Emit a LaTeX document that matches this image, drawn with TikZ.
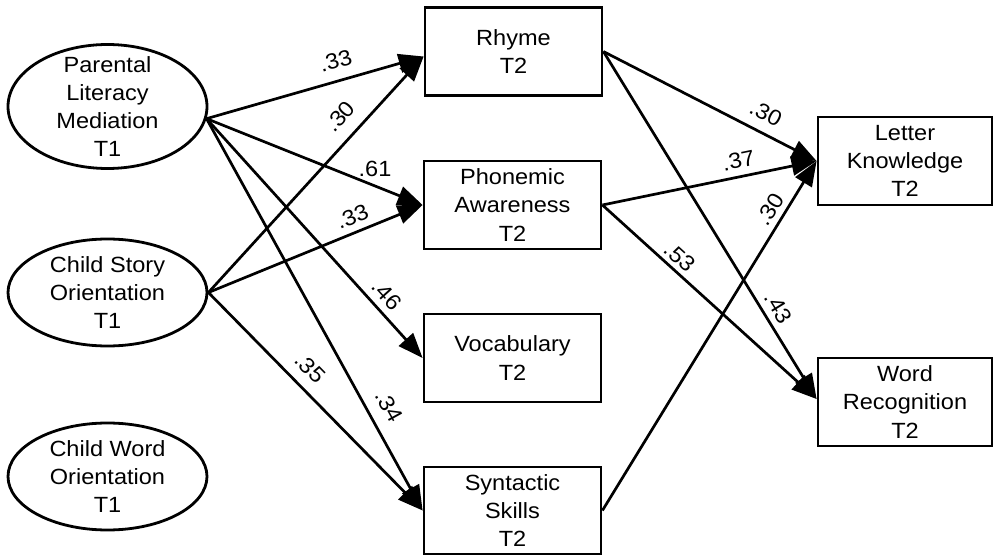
\documentclass[tikz,border=0pt]{standalone}
\usepackage{fontspec}
\setmainfont{Liberation Sans}[FakeStretch=1.07]
\usetikzlibrary{arrows.meta,shapes.geometric}

\begin{document}
\begin{tikzpicture}[x=1pt,y=-1pt,
  txt/.style={font=\fontsize{22}{28.3}\selectfont, align=center},
  latent/.style={ellipse, draw, line width=2.8pt, minimum width=199pt,
    minimum height=107pt, inner sep=0pt},
  measure/.style={rectangle, draw, line width=2.8pt, minimum width=177pt,
    minimum height=88pt, inner sep=0pt, txt},
  effect/.style={line width=2.7pt, -{Triangle[length=25pt,width=19pt]}},
  coef/.style={font=\fontsize{22}{26}\selectfont, inner sep=1pt},
  scoef/.style={coef, sloped}
]
\useasboundingbox (0,0) rectangle (994,556);

% latent predictors (T1)
\node[latent, minimum height=124pt,
  label={[txt]center:{Parental\\Literacy\\Mediation\\T1}}] (plm) at (107.5,106.5) {};
\node[latent, label={[txt]center:{Child Story\\Orientation\\T1}}] (cso) at (107.5,292.5) {};
\node[latent, label={[txt]center:{Child Word\\Orientation\\T1}}] (cwo) at (107.5,476.5) {};

% mediating skills (T2)
\node[measure] (rhy) at (513.5,51.5) {Rhyme\\T2};
\node[measure] (pho) at (512.5,205) {Phonemic\\Awareness\\T2};
\node[measure] (voc) at (512.5,358) {Vocabulary\\T2};
\node[measure, minimum height=87pt] (syn) at (512.5,510.5) {Syntactic\\Skills\\T2};

% outcomes (T2)
\node[measure, minimum width=174pt] (let) at (905,161) {Letter\\Knowledge\\T2};
\node[measure, minimum width=174pt] (wor) at (905,402) {Word\\Recognition\\T2};

% paths from Parental Literacy Mediation
\draw[effect] (plm.-7) -- node[scoef, pos=0.62, above=10pt] {.33} ([yshift=-5pt]rhy.west);
\draw[effect] (plm.-7) -- node[coef, pos=0.78, above=7pt] {.61} (pho.west);
\draw[effect] (plm.-7) -- node[scoef, pos=0.78, above=6pt] {.46} (voc.west);
\draw[effect] (plm.-7) -- node[scoef, pos=0.76, above=11pt] {.34} (syn.west);

% paths from Child Story Orientation
\draw[effect] (cso.east) -- node[scoef, pos=0.685, above=11pt] {.30} ([yshift=-5pt]rhy.west);
\draw[effect] (cso.east) -- node[scoef, pos=0.70, above=6pt] {.33} (pho.west);
\draw[effect] (cso.east) -- node[scoef, pos=0.41, above=9.5pt] {.35} (syn.west);

% paths to the outcomes
\draw[effect] (rhy.east) -- node[scoef, pos=0.72, above=9.6pt] {.30} (let.west);
\draw[effect] (rhy.east) -- node[scoef, pos=0.76, above=5.4pt] {.43} ([yshift=3pt]wor.west);
\draw[effect] (pho.east) -- node[scoef, pos=0.65, above=6pt] {.37} (let.west);
\draw[effect] (pho.east) -- node[scoef, pos=0.32, above=3.3pt] {.53} ([yshift=3pt]wor.west);
\draw[effect] (syn.east) -- node[scoef, pos=0.84, above=4.5pt] {.30} (let.west);
\end{tikzpicture}
\end{document}
